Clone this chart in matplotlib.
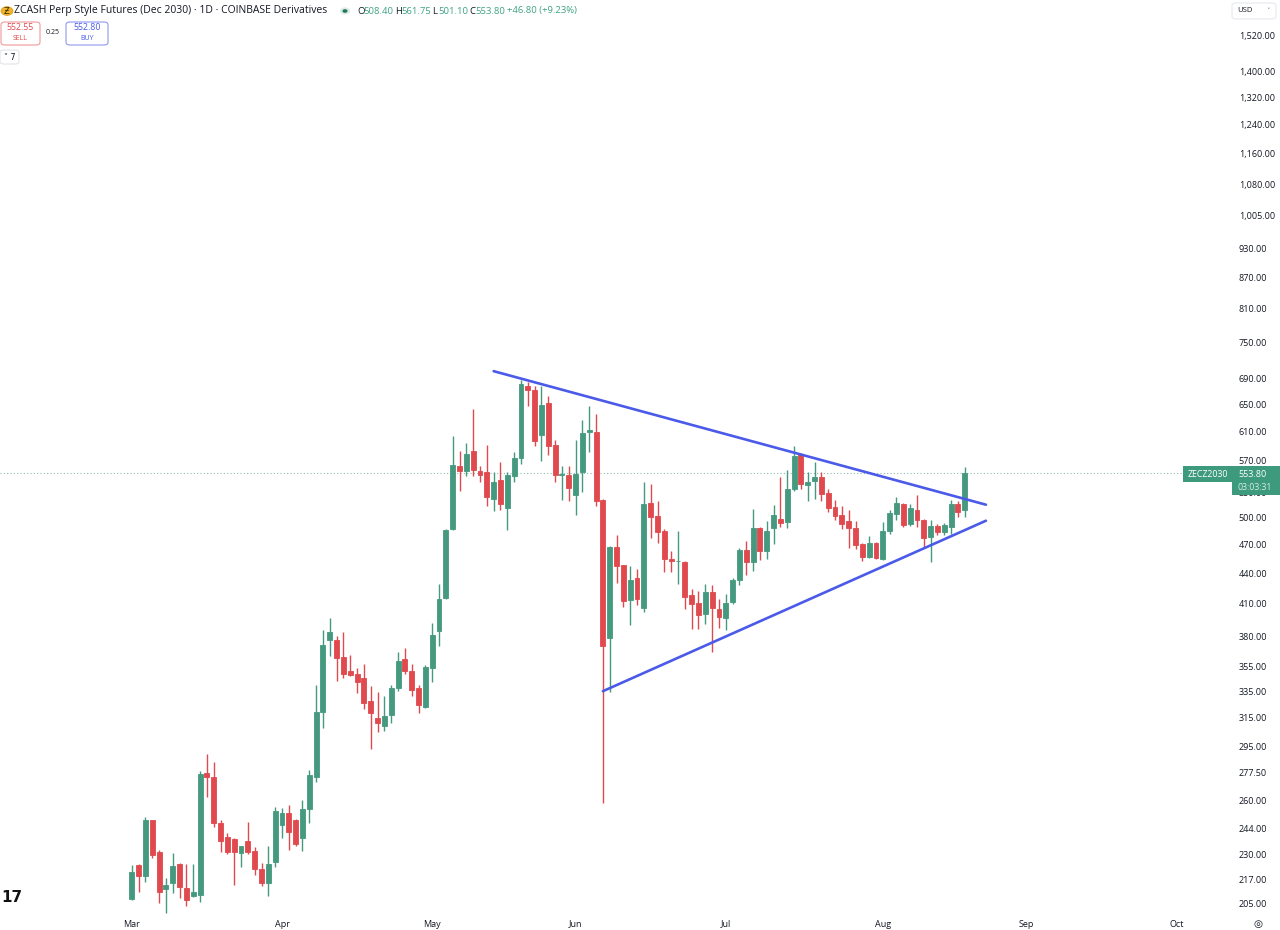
import numpy as np
import pandas as pd
import matplotlib
matplotlib.use("Agg")
import matplotlib.pyplot as plt
from matplotlib.patches import Rectangle, FancyBboxPatch, Circle
from matplotlib.ticker import NullLocator, NullFormatter

plt.rcParams['font.family'] = ['Open Sans', 'DejaVu Sans']

# daily candles, weekdays from 2 Mar 2026
dates = pd.bdate_range('2026-03-02', periods=123)
opens = [207.4, 224.1, 218.7, 249.1, 230.9, 212.1, 215.0, 224.9, 212.9, 208.8,
         209.3, 277.2, 274.7, 247.2, 239.2, 237.9, 230.5, 236.8, 231.7, 222.0,
         215.3, 226.0, 245.9, 253.0, 249.1, 238.9, 255.0, 274.5, 319.6, 376.8,
         377.4, 362.6, 350.7, 348.3, 345.1, 327.6, 315.2, 308.9, 317.1, 337.4,
         360.8, 351.2, 337.4, 322.7, 353.1, 384.7, 415.4, 486.7, 563.3, 557.4,
         583.7, 556.6, 555.3, 522.0, 544.8, 511.3, 551.0, 573.6, 676.9, 671.6,
         605.8, 651.5, 591.9, 552.3, 551.9, 527.3, 556.1, 609.5, 609.5, 521.0,
         378.9, 467.5, 448.2, 413.1, 434.6, 406.0, 517.1, 502.3, 484.3, 454.7,
         452.3, 451.7, 418.0, 411.0, 400.6, 421.4, 405.3, 396.7, 411.9, 433.3,
         464.0, 451.3, 488.1, 462.9, 488.1, 498.5, 494.6, 534.4, 579.3, 539.4,
         544.6, 548.8, 529.3, 512.5, 503.5, 495.7, 488.1, 470.0, 456.8, 471.8,
         454.7, 484.3, 504.6, 516.3, 493.2, 509.3, 497.7, 478.2, 490.8, 483.2,
         489.2, 516.3, 508.4]
highs = [224.1, 224.6, 250.6, 249.1, 232.1, 217.9, 230.5, 225.3, 225.0, 225.0,
         278.8, 289.7, 284.4, 249.1, 241.2, 238.8, 234.6, 247.6, 234.0, 225.4,
         234.6, 256.2, 255.7, 257.6, 249.5, 260.6, 279.0, 339.7, 386.2, 396.8,
         380.3, 383.8, 364.1, 353.1, 356.6, 339.2, 334.5, 331.4, 339.7, 366.8,
         370.5, 356.6, 339.7, 355.8, 392.3, 429.4, 487.3, 604.3, 583.7, 594.3,
         642.7, 563.0, 591.6, 555.3, 569.1, 556.1, 581.5, 687.3, 684.2, 677.8,
         677.8, 661.6, 597.9, 563.8, 563.8, 597.9, 626.0, 647.4, 634.5, 521.7,
         468.2, 480.9, 448.2, 446.9, 444.1, 542.7, 540.6, 519.2, 487.0, 462.7,
         484.3, 452.3, 423.9, 421.9, 429.4, 427.7, 414.8, 419.6, 434.6, 466.6,
         473.7, 510.1, 489.2, 495.7, 515.3, 548.9, 558.7, 590.2, 580.7, 555.3,
         569.1, 556.1, 534.4, 521.0, 513.1, 508.5, 495.7, 471.8, 479.2, 472.5,
         494.6, 509.3, 524.5, 517.8, 516.3, 527.3, 498.5, 497.7, 493.2, 494.0,
         521.0, 519.2, 561.75]
lows = [206.9, 210.9, 215.8, 228.0, 205.3, 200.6, 210.1, 207.7, 204.1, 208.5,
        205.8, 262.6, 245.0, 231.2, 230.0, 214.2, 223.5, 230.0, 219.0, 213.7,
        208.9, 223.5, 238.9, 232.3, 234.2, 231.4, 247.2, 271.8, 308.0, 363.5,
        343.1, 345.1, 347.2, 333.5, 321.4, 293.0, 304.6, 305.3, 311.2, 335.2,
        348.3, 331.4, 318.4, 322.0, 342.4, 371.6, 414.8, 485.9, 531.6, 550.3,
        550.3, 542.7, 514.1, 507.3, 509.3, 485.6, 543.5, 566.0, 646.6, 590.2,
        570.4, 578.0, 543.5, 520.4, 520.2, 503.5, 530.4, 582.4, 513.1, 258.6,
        334.0, 430.2, 406.9, 390.7, 408.4, 402.3, 477.1, 471.1, 440.7, 440.7,
        429.5, 405.3, 386.8, 386.8, 391.6, 366.4, 387.7, 386.2, 410.0, 427.9,
        438.0, 442.3, 453.3, 454.7, 470.0, 489.2, 488.1, 532.3, 534.4, 520.2,
        522.2, 520.2, 506.1, 497.7, 487.2, 466.6, 465.0, 452.3, 455.8, 454.0,
        453.3, 481.9, 496.9, 489.2, 490.8, 489.2, 466.6, 451.3, 480.9, 480.9,
        481.9, 500.8, 501.1]
closes = [220.7, 218.7, 248.7, 229.5, 210.9, 214.3, 223.8, 213.2, 206.9, 210.9,
          276.7, 275.1, 247.2, 237.0, 231.2, 230.9, 234.2, 231.2, 222.0, 215.0,
          225.0, 254.2, 252.7, 241.9, 235.2, 255.2, 276.2, 319.6, 372.6, 383.7,
          361.6, 348.3, 347.5, 342.4, 325.9, 318.4, 311.2, 316.4, 337.2, 359.4,
          350.7, 335.9, 324.4, 354.4, 381.8, 414.8, 486.3, 564.8, 557.4, 579.3,
          558.7, 552.3, 524.5, 542.7, 516.3, 551.9, 573.6, 680.5, 671.6, 596.5,
          648.5, 590.2, 551.9, 553.1, 535.2, 553.2, 608.6, 611.8, 519.2, 372.2,
          467.1, 446.9, 412.6, 433.2, 414.1, 516.3, 500.8, 483.2, 454.7, 452.3,
          452.7, 416.4, 410.0, 399.7, 421.4, 406.0, 397.6, 411.0, 433.3, 464.0,
          451.3, 488.1, 462.9, 485.4, 503.5, 493.9, 534.4, 576.3, 540.6, 542.7,
          549.7, 528.5, 511.3, 502.3, 493.2, 488.1, 468.9, 456.8, 471.8, 455.8,
          484.3, 505.4, 517.8, 492.1, 511.3, 497.7, 477.1, 490.8, 483.2, 492.1,
          516.3, 506.1, 553.8]

price_ticks = [205, 217, 230, 244, 260, 277.5, 295, 315, 335, 355, 380, 410, 440,
               470, 500, 530, 570, 610, 650, 690, 750, 810, 870, 930, 1005, 1080,
               1160, 1240, 1320, 1400, 1520]

# hand drawn triangle (bar index, price)
upper_x, upper_y = [53.0, 125.1], [701.2, 515.2]
lower_x, lower_y = [69.0, 125.1], [335.0, 496.5]

last_price = 553.8

UP = '#44997f'
DN = '#e0494e'
TXT = '#131722'
W, H = 1280, 930


def fx(px):
    return px / W


def fy(py):
    return 1 - py / H


fig = plt.figure(figsize=(12.8, 9.3), dpi=100)
ax = fig.add_axes([0, 16 / H, 1229 / W, 914 / H])

o = np.array(opens)
h = np.array(highs)
l = np.array(lows)
c = np.array(closes)
x = np.arange(len(o))
col = np.where(c >= o, UP, DN)

ax.axhline(last_price, color='#8dbbab', lw=0.8, ls=(0, (1, 2)), zorder=1)
ax.vlines(x, l, h, colors=col, lw=1.0, zorder=2)
ax.bar(x, np.abs(c - o), bottom=np.minimum(o, c), width=0.72,
       color=col, edgecolor=col, lw=0.6, zorder=3)

ax.plot(upper_x, upper_y, color='#4b5ae9', lw=1.9, solid_capstyle='round', zorder=4)
ax.plot(lower_x, lower_y, color='#4b5ae9', lw=1.9, solid_capstyle='round', zorder=4)

ax.set_yscale('log')
ax.set_ylim(200.3, 1651.6)
ax.set_xlim(-19.3, 160.7)

ax.yaxis.tick_right()
ax.yaxis.set_minor_locator(NullLocator())
ax.yaxis.set_minor_formatter(NullFormatter())
ax.set_yticks(price_ticks)
ax.set_yticklabels([f"{v:,.2f}" for v in price_ticks])
ax.tick_params(axis='y', length=0, pad=7, labelsize=6.5, labelcolor=TXT)

# month labels at first trading day of each month
allb = pd.bdate_range('2026-03-02', '2026-10-30')
mpos = [i for i in range(len(allb)) if i == 0 or allb[i].month != allb[i - 1].month]
ax.set_xticks(mpos)
ax.set_xticklabels([allb[i].strftime('%b') for i in mpos])
ax.tick_params(axis='x', length=0, pad=4, labelsize=6.5, labelcolor=TXT)

for s in ax.spines.values():
    s.set_visible(False)

# header
fig.add_artist(Circle((fx(7), fy(11)), 6 / W, transform=fig.transFigure,
                      color='#f0b429', ec='#d89c14', lw=0.5))
fig.text(fx(7), fy(11), 'Ƶ', ha='center', va='center', fontsize=6, color='#3a2a00',
         family=['DejaVu Sans'])
fig.text(fx(14), fy(11), 'ZCASH Perp Style Futures (Dec 2030) · 1D · COINBASE Derivatives',
         va='center', fontsize=7.5, color=TXT)
fig.add_artist(Circle((fx(345), fy(11)), 5 / W, transform=fig.transFigure,
                      color='#dfe9e5', lw=0))
fig.add_artist(Circle((fx(345), fy(11)), 2.5 / W, transform=fig.transFigure,
                      color='#1c7a60', lw=0))
ohlc = [(357, 'O', '508.40'), (395, 'H', '561.75'), (432, 'L', '501.10'), (469, 'C', '553.80')]
for px0, k, v in ohlc:
    fig.text(fx(px0), fy(11), k, va='center', fontsize=6.8, color=TXT)
    fig.text(fx(px0 + 6.5), fy(11), v, va='center', fontsize=6.8, color='#3fa283')
fig.text(fx(507), fy(11), '+46.80 (+9.23%)', va='center', fontsize=6.8, color='#3fa283')

# sell / buy boxes
fig.add_artist(FancyBboxPatch((fx(1), fy(45)), 39 / W, 23 / H, transform=fig.transFigure,
                              boxstyle='round,pad=0,rounding_size=0.003',
                              fc='white', ec='#f09a9c', lw=0.8))
fig.text(fx(20.5), fy(28), '552.55', ha='center', va='center', fontsize=6.3, color='#e0494e')
fig.text(fx(20.5), fy(38.5), 'SELL', ha='center', va='center', fontsize=5, color='#e0494e')
fig.text(fx(53), fy(32.5), '0.25', ha='center', va='center', fontsize=5, color=TXT)
fig.add_artist(FancyBboxPatch((fx(66), fy(45)), 42 / W, 23 / H, transform=fig.transFigure,
                              boxstyle='round,pad=0,rounding_size=0.003',
                              fc='white', ec='#8f98f0', lw=0.8))
fig.text(fx(87), fy(28), '552.80', ha='center', va='center', fontsize=6.3, color='#4b5ae9')
fig.text(fx(87), fy(38.5), 'BUY', ha='center', va='center', fontsize=5, color='#4b5ae9')
fig.add_artist(FancyBboxPatch((fx(0), fy(64)), 19 / W, 14 / H, transform=fig.transFigure,
                              boxstyle='round,pad=0,rounding_size=0.003',
                              fc='white', ec='#e0e3eb', lw=0.8))
fig.text(fx(9.5), fy(57), '˅ 7', ha='center', va='center', fontsize=5.8, color=TXT,
         family=['DejaVu Sans'])

# price scale extras
fig.add_artist(FancyBboxPatch((fx(1232), fy(19)), 44 / W, 16 / H, transform=fig.transFigure,
                              boxstyle='round,pad=0,rounding_size=0.003',
                              fc='white', ec='#e6e8ee', lw=0.8))
fig.text(fx(1237), fy(11), 'USD', va='center', fontsize=5.5, color=TXT)
fig.text(fx(1268), fy(11), '˅', va='center', ha='center', fontsize=5, color='#777',
         family=['DejaVu Sans'])
fig.add_artist(Rectangle((fx(1183), fy(482)), 49 / W, 16 / H, transform=fig.transFigure,
                         color='#3d9a7c', lw=0))
fig.text(fx(1207.5), fy(474), 'ZECZ2030', ha='center', va='center', fontsize=6.3, color='white')
fig.add_artist(Rectangle((fx(1232), fy(495)), 48 / W, 29 / H, transform=fig.transFigure,
                         color='#3d9a7c', lw=0))
fig.text(fx(1238), fy(474), '553.80', va='center', fontsize=6.5, color='white')
fig.text(fx(1238), fy(487), '03:03:31', va='center', fontsize=6.3, color='#d6ede5')
fig.text(fx(1258), fy(924), '◎', ha='center', va='center', fontsize=7.5, color=TXT,
         family=['DejaVu Sans'])

# tv logo
fig.text(fx(1), fy(897), '17', va='center', fontsize=11, fontweight='heavy', color='#111',
         family=['DejaVu Sans'])

fig.savefig('out.png', dpi=100, facecolor='white')
